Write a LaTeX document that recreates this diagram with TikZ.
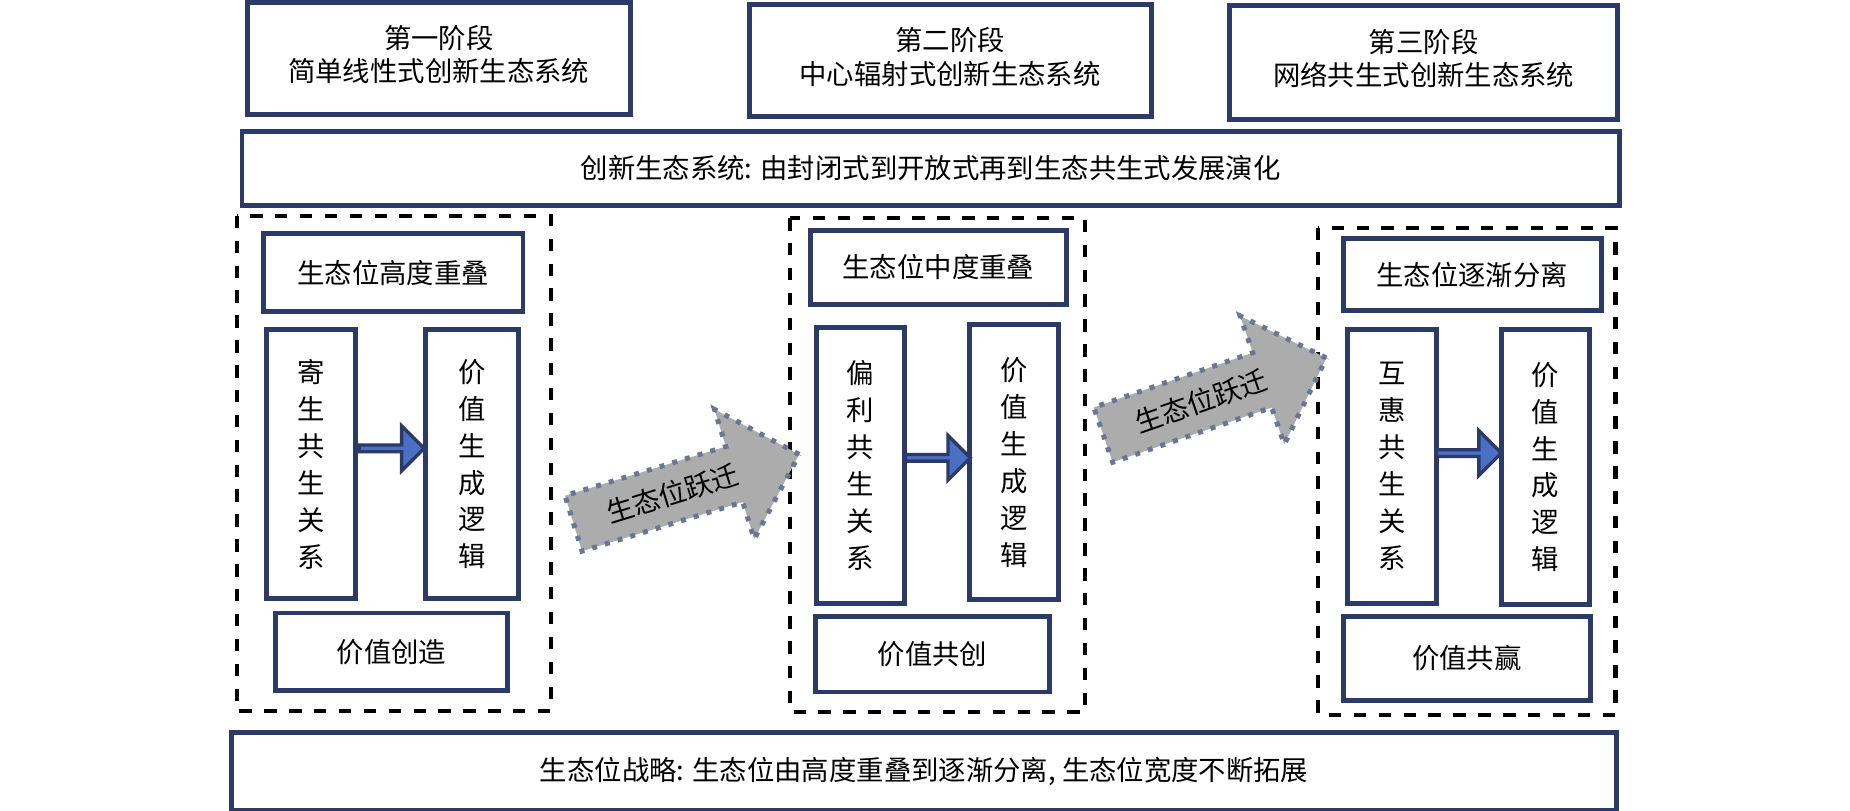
\documentclass[tikz,border=0pt]{standalone}
\usepackage{fontspec}
\setmainfont{Noto Sans CJK SC}
\usetikzlibrary{positioning,shapes.arrows,arrows.meta}
\definecolor{navy}{HTML}{2B3A67}
\definecolor{arrowblue}{HTML}{4A6FC4}
\tikzset{
  box/.style={draw=navy, line width=1.2pt, inner sep=0pt, font=\fontsize{6.6pt}{8pt}\selectfont},
  frame/.style={draw=black, dashed, line width=1pt},
  jump/.style={single arrow, draw=navy!70, dotted, line width=1.2pt, fill=gray!65,
    minimum height=2.0cm, minimum width=1.15cm, single arrow head extend=0.22cm,
    inner sep=1pt, font=\fontsize{6.6pt}{8pt}\selectfont},
  link/.style={single arrow, draw=navy, fill=arrowblue, line width=0.8pt,
    minimum height=0.55cm, minimum width=0.38cm, single arrow head extend=0.08cm, inner sep=0pt}
}
\newcommand{\vtext}{\centering\fontsize{6.6pt}{8.9pt}\selectfont}
% box from pixel corners (x1,y1,x2,y2)
\newcommand{\pbox}[6]{\node[box, minimum width={(#4-#2)*0.01cm}, minimum height={(#5-#3)*0.01cm}]
  (#1) at ({(#2+#4)*0.005},{6.87-(#3+#5)*0.005}) {#6};}
\newcommand{\pframe}[4]{\draw[frame] ({#1*0.01},{6.87-#2*0.01}) rectangle ({#3*0.01},{6.87-#4*0.01});}
\begin{document}
\begin{tikzpicture}
\useasboundingbox[fill=white] (0,0) rectangle (15.68,6.87);
%STAGES
\pbox{s1}{209}{2}{534}{97}{\begin{tabular}{c}第一阶段\\简单线性式创新生态系统\end{tabular}}
\pbox{s2}{634}{4}{975}{99}{\begin{tabular}{c}第二阶段\\中心辐射式创新生态系统\end{tabular}}
\pbox{s3}{1041}{5}{1370}{101}{\begin{tabular}{c}第三阶段\\网络共生式创新生态系统\end{tabular}}
\pbox{top}{204}{111}{1372}{174}{创新生态系统: 由封闭式到开放式再到生态共生式发展演化}
%FRAMES
\pframe{201}{183}{467}{603}
\pframe{670}{185}{920}{604}
\pframe{1118}{193}{1370}{606}
%STAGE 1
\pbox{h1}{223}{198}{443}{264}{生态位高度重叠}
\pbox{l1}{226}{279}{301}{507}{\parbox{1em}{\vtext 寄\\生\\共\\生\\关\\系}}
\pbox{r1}{360}{279}{439}{507}{\parbox{1em}{\vtext 价\\值\\生\\成\\逻\\辑}}
\pbox{b1}{233}{519}{430}{585}{价值创造}
%STAGE 2
\pbox{h2}{686}{195}{903}{258}{生态位中度重叠}
\pbox{l2}{691}{277}{766}{511}{\parbox{1em}{\vtext 偏\\利\\共\\生\\关\\系}}
\pbox{r2}{821}{275}{896}{508}{\parbox{1em}{\vtext 价\\值\\生\\成\\逻\\辑}}
\pbox{b2}{690}{522}{889}{586}{价值共创}
%STAGE 3
\pbox{h3}{1137}{202}{1356}{263}{生态位逐渐分离}
\pbox{l3}{1141}{279}{1216}{511}{\parbox{1em}{\vtext 互\\惠\\共\\生\\关\\系}}
\pbox{r3}{1271}{279}{1346}{512}{\parbox{1em}{\vtext 价\\值\\生\\成\\逻\\辑}}
\pbox{b3}{1137}{522}{1347}{593}{价值共赢}
\pbox{bot}{195}{620}{1370}{686}{生态位战略: 生态位由高度重叠到逐渐分离, 生态位宽度不断拓展}
%SMALL ARROWS
\node[link] (a1) at ({3.305},{6.87-3.80}) {};
\node[link] (a2) at ({7.935},{6.87-3.88}) {};
\node[link] (a3) at ({12.435},{6.87-3.84}) {};
%BIG ARROWS
\node[jump, rotate=17] (j1) at (5.70,{6.87-4.18}) {生态位跃迁};
\node[jump, rotate=19] (j2) at (10.18,{6.87-3.40}) {生态位跃迁};
\end{tikzpicture}
\end{document}
